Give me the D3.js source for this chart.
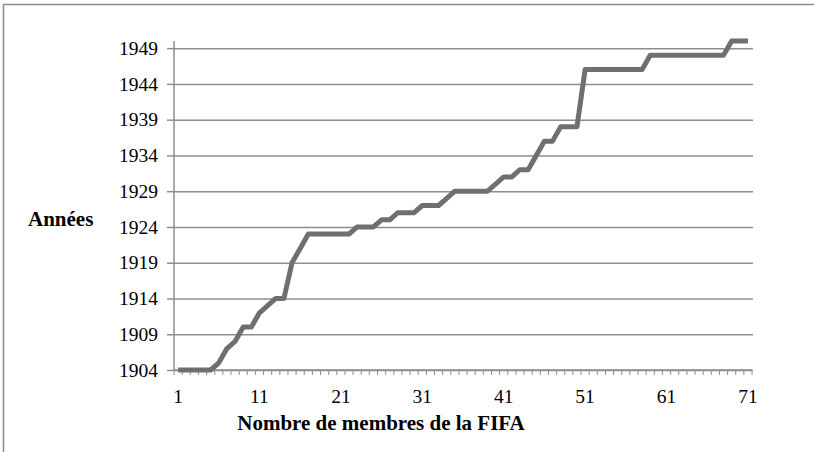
<!DOCTYPE html>
<html>
<head>
<meta charset="utf-8">
<script src="https://cdn.jsdelivr.net/npm/d3@7"></script>
<style>
  body { margin:0; background:#fff; }
  svg { display:block; }
  .tick text { font-family:"Liberation Serif", serif; font-size:19.5px; fill:#000; }
  .title { font-family:"Liberation Serif", serif; font-size:21px; font-weight:bold; fill:#000; }
</style>
</head>
<body>
<div id="chart"></div>
<script>
// nombre de membres de la FIFA (1..71) et année d'adhésion
const members = d3.range(1, 72);
const years = [
  1904,1904,1904,1904,1904,1905,1907,1908,1910,1910,
  1912,1913,1914,1914,1919,1921,1923,1923,1923,1923,
  1923,1923,1924,1924,1924,1925,1925,1926,1926,1926,
  1927,1927,1927,1928,1929,1929,1929,1929,1929,1930,
  1931,1931,1932,1932,1934,1936,1936,1938,1938,1938,
  1946,1946,1946,1946,1946,1946,1946,1946,1948,1948,
  1948,1948,1948,1948,1948,1948,1948,1948,1950,1950,
  1950
];
const xTicks = [1, 11, 21, 31, 41, 51, 61, 71];
const yTicks = [1904, 1909, 1914, 1919, 1924, 1929, 1934, 1939, 1944, 1949];

let width = 814, height = 452,
    margin = { left: 174, right: 752, top: 41, bottom: 370 };

let data = members.map((m, i) => ({ m: m, y: years[i] }));

let svg = d3.select("#chart").append("svg").attr("width", width).attr("height", height);

// cadre
svg.append("rect").attr("x", 3.5).attr("y", 4.5).attr("width", 830).attr("height", 470)
   .attr("fill", "none").attr("stroke", "#8c8c8c").attr("stroke-width", 1.5);

let xScale = d3.scaleBand().domain(members).range([margin.left, margin.right]).padding(0);
let yScale = d3.scaleLinear().domain([1904, 1950]).range([margin.bottom, margin.top]);

// grille
let grid = svg.append("g").attr("transform", `translate(${margin.left},0)`)
   .call(d3.axisLeft(yScale).tickValues(yTicks).tickSize(-(margin.right - margin.left + 1)).tickFormat(""));
grid.select(".domain").remove();
grid.selectAll("line").attr("stroke", "#8e8e8e").attr("stroke-width", 1.5);

// axe Y
let yAxis = svg.append("g").attr("transform", `translate(${margin.left},0)`)
   .call(d3.axisLeft(yScale).tickValues(yTicks).tickSize(7).tickPadding(9).tickFormat(d3.format("d")));
yAxis.select(".domain").attr("stroke", "#8e8e8e").attr("stroke-width", 1.5)
   .attr("d", `M0,${margin.top}V${margin.bottom}`);
yAxis.selectAll(".tick line").attr("stroke", "#8e8e8e").attr("stroke-width", 1.5);

// axe X : graduations entre catégories
let bounds = members.map(m => xScale(m)).concat([xScale(71) + xScale.bandwidth()]);
svg.append("g").selectAll("line").data(bounds).enter().append("line")
   .attr("x1", d => d).attr("x2", d => d).attr("y1", margin.bottom).attr("y2", margin.bottom + 5)
   .attr("stroke", "#8e8e8e").attr("stroke-width", 1);
svg.append("line").attr("x1", margin.left).attr("x2", margin.right)
   .attr("y1", margin.bottom).attr("y2", margin.bottom)
   .attr("stroke", "#8e8e8e").attr("stroke-width", 1.5);

let xAxis = svg.append("g").attr("transform", `translate(0,${margin.bottom})`)
   .call(d3.axisBottom(xScale).tickValues(xTicks).tickSize(0).tickPadding(19));
xAxis.select(".domain").remove();

// courbe
let line = d3.line()
   .x(d => xScale(d.m) + xScale.bandwidth() / 2)
   .y(d => yScale(d.y));
svg.append("path").attr("d", line(data)).attr("fill", "none")
   .attr("stroke", "#6f6f6f").attr("stroke-width", 5).attr("stroke-linejoin", "round");

// titres
svg.append("text").attr("class", "title").attr("x", 28).attr("y", 226).text("Années");
svg.append("text").attr("class", "title").attr("x", 381).attr("y", 430)
   .attr("text-anchor", "middle").text("Nombre de membres de la FIFA");
</script>
</body>
</html>
